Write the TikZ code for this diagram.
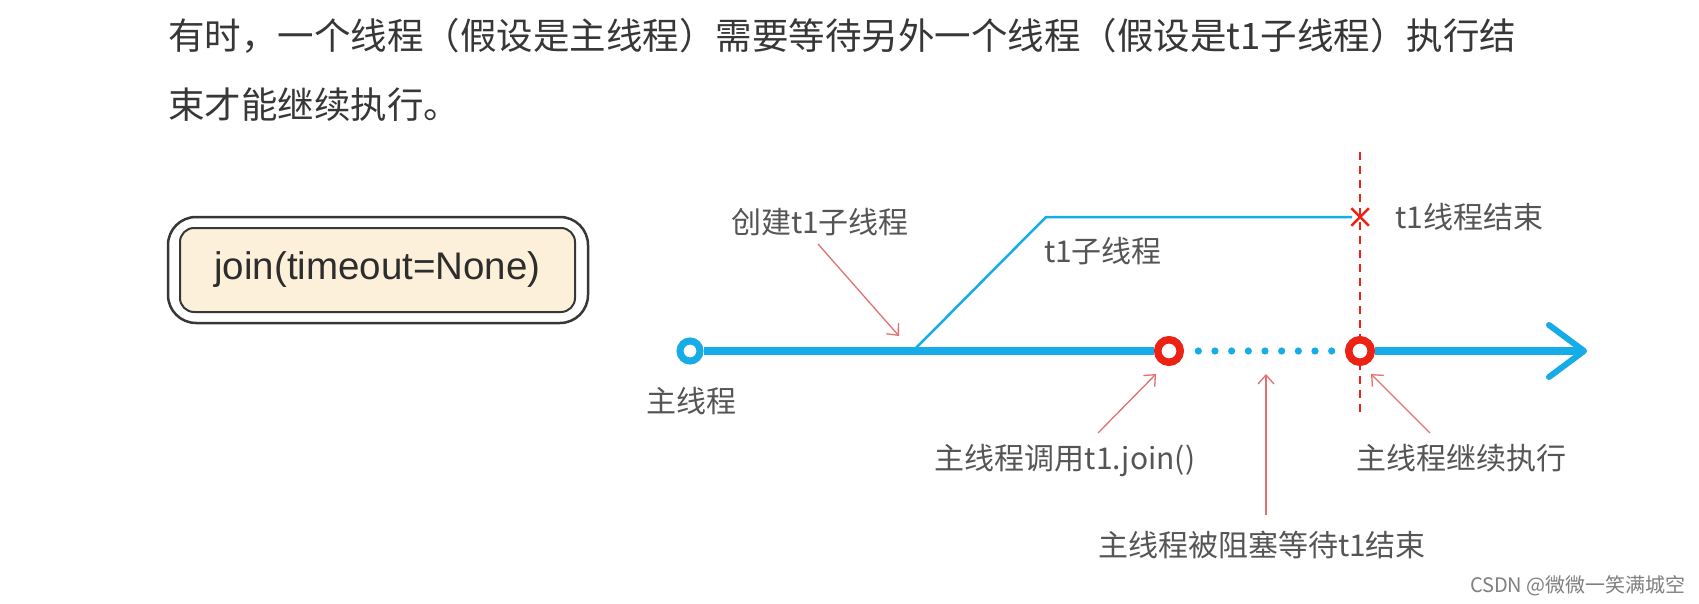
\documentclass[tikz,border=0pt]{standalone}
\usepackage{fontspec}
\setmainfont{Noto Sans CJK SC}
\newfontfamily\latf{Liberation Sans}
\usetikzlibrary{arrows.meta,shapes.misc}
\definecolor{tblue}{RGB}{22,172,232}
\definecolor{tred}{RGB}{236,34,20}
\definecolor{ared}{RGB}{228,112,112}
\definecolor{lgray}{RGB}{85,85,85}
\definecolor{hgray}{RGB}{55,55,55}
\definecolor{boxfill}{RGB}{253,240,218}
\begin{document}
\begin{tikzpicture}[x=1pt,y=-1pt,
  lbl/.style={font=\fontsize{30}{32}\selectfont, text=lgray, inner sep=0pt},
  head/.style={font=\fontsize{36.5}{40}\selectfont, text=hgray, anchor=west, inner sep=0pt},
  ptr/.style={draw=ared, line width=1.3pt, -{Straight Barb[length=9pt,width=16pt]}},
  mainln/.style={draw=tblue, line width=7.5pt},
  ring/.style={circle, draw=tred, line width=7.5pt, fill=white, minimum size=22.5pt, inner sep=0pt},
  bluering/.style={circle, draw=tblue, line width=7pt, fill=white, minimum size=20pt, inner sep=0pt}
]
\useasboundingbox[fill=white] (0,0) rectangle (1699,604);

% heading
\node[head] (h1) at (168,36) {有时，一个线程（假设是主线程）需要等待另外一个线程（假设是t1子线程）执行结};
\node[head] (h2) at (168,105) {束才能继续执行。};

% box
\node[draw=hgray, line width=2.5pt, rounded corners=28pt, minimum width=420pt, minimum height=106pt] (outer) at (378,270) {};
\node[draw=hgray, fill=boxfill, line width=2pt, rounded corners=14pt, minimum width=395pt, minimum height=84pt, font=\latf\fontsize{38.5}{40}\selectfont, text={rgb,255:red,45;green,45;blue,45}] (inner) at (377.5,270) {join(timeout=None)};

% coordinates
\coordinate (fork) at (913,351);
\coordinate (bend) at (1046,217);
\coordinate (vtop) at (1360,152);
\coordinate (vbot) at (1360,417);
\coordinate (tip) at (1584,351);
\coordinate (armup) at (1549,325);
\coordinate (armdn) at (1549,377);

% dashed end line and branch
\draw[tred, line width=2pt, dash pattern=on 8pt off 6pt] (vtop) -- (vbot);
\draw[tblue, line width=2.5pt] (fork) -- (bend) -- (1352,217);
\node[draw=tred, cross out, line width=2.5pt, minimum size=15pt, inner sep=0pt] (xend) at (1360,217) {};

% timeline nodes
\node[bluering] (start) at (690,351) {};
\node[ring] (j) at (1169,351) {};
\node[ring] (e) at (1360,351) {};

\draw[mainln] (start) -- (j);
\foreach \i in {0,...,8} \fill[tblue] (1198.3+\i*16.67,351) circle (3.6pt);
\draw[mainln] (e) -- (1580,351);
\draw[tblue, line width=6pt, line cap=round, line join=round] (armup) -- (tip) -- (armdn);

% labels
\node[lbl] (lcreate) at (820,222) {创建t1子线程};
\node[lbl] (lt1) at (1103,251) {t1子线程};
\node[lbl, anchor=west] (lend) at (1395,217) {t1线程结束};
\node[lbl] (lmain) at (691,401) {主线程};
\node[lbl] (ljoin) at (1065,460) {主线程调用t1.join()};
\node[lbl] (lblock) at (1262,545) {主线程被阻塞等待t1结束};
\node[lbl] (lcont) at (1461,458) {主线程继续执行};
\node[font=\fontsize{20}{22}\selectfont, text=gray, anchor=east, inner sep=0pt] (wm) at (1686,586) {CSDN @微微一笑满城空};

% pointer arrows
\coordinate (a1s) at (818,244); \coordinate (a1e) at (899,336);
\coordinate (a2s) at (1098,433); \coordinate (a2e) at (1156,374);
\coordinate (a3s) at (1266,515); \coordinate (a3e) at (1266,374);
\coordinate (a4s) at (1430,433); \coordinate (a4e) at (1371,374);
\draw[ptr] (a1s) -- (a1e);
\draw[ptr] (a2s) -- (a2e);
\draw[ptr] (a3s) -- (a3e);
\draw[ptr] (a4s) -- (a4e);
\end{tikzpicture}
\end{document}
